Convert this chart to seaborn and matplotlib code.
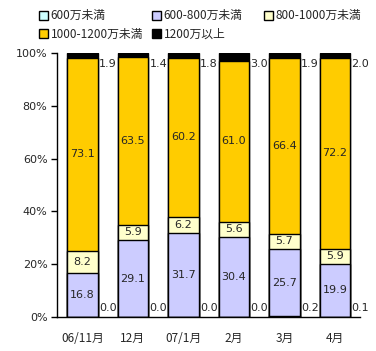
import matplotlib
matplotlib.use("Agg")
import matplotlib.pyplot as plt
import numpy as np
import pandas as pd
import seaborn as sns
from matplotlib.patches import Patch

months = ["06/11月", "12月", "07/1月", "2月", "3月", "4月"]
under600 = [0.0, 0.0, 0.0, 0.0, 0.2, 0.1]
r600_800 = [16.8, 29.1, 31.7, 30.4, 25.7, 19.9]
r800_1000 = [8.2, 5.9, 6.2, 5.6, 5.7, 5.9]
r1000_1200 = [73.1, 63.5, 60.2, 61.0, 66.4, 72.2]
over1200 = [1.9, 1.4, 1.8, 3.0, 1.9, 2.0]

names = ["600万未満", "600-800万未満", "800-1000万未満", "1000-1200万未満", "1200万以上"]
colors = ["#CCFFFF", "#CCCCFF", "#FFFFCC", "#FFCC00", "#000000"]
series = [under600, r600_800, r800_1000, r1000_1200, over1200]

sns.set_theme(style="white")
plt.rcParams['font.family'] = ['Noto Sans CJK JP', 'DejaVu Sans']

fig = plt.figure(figsize=(3.76, 3.51), dpi=100)
ax = fig.add_axes([0.152, 0.097, 0.806, 0.752])

cum = np.cumsum(np.array(series), axis=0)
bw = 0.61
# draw cumulative totals back to front so the lower segments sit on top
for i in range(len(series) - 1, -1, -1):
    df = pd.DataFrame({"month": months, "value": cum[i]})
    sns.barplot(data=df, x="month", y="value", order=months, color=colors[i],
                width=bw, edgecolor="black", linewidth=1, saturation=1, ax=ax)

fs = 8
for j in range(len(months)):
    for i in (1, 2, 3):
        lo = cum[i - 1][j]
        ax.text(j, lo + series[i][j] / 2, f"{series[i][j]:.1f}", ha="center", va="center",
                fontsize=fs, family="DejaVu Sans")
    ax.text(j + bw / 2 + 0.02, 3.4, f"{under600[j]:.1f}", ha="left", va="center",
            fontsize=fs, family="DejaVu Sans")
    ax.text(j + bw / 2 + 0.02, 95.8, f"{over1200[j]:.1f}", ha="left", va="center",
            fontsize=fs, family="DejaVu Sans")

ax.set_xlim(-0.5, 5.5)
ax.set_ylim(0, 100)
ax.set_yticks([0, 20, 40, 60, 80, 100])
ax.set_yticklabels([f"{v}%" for v in [0, 20, 40, 60, 80, 100]], family="DejaVu Sans")
ax.set_xlabel("")
ax.set_ylabel("")
ax.tick_params(axis="y", left=True, length=4, width=1, pad=3, labelsize=fs, color="black")
ax.tick_params(axis="x", length=0, pad=11, labelsize=8.5)
for s in ["top", "right"]:
    ax.spines[s].set_visible(False)
for s in ["left", "bottom"]:
    ax.spines[s].set_color("black")
    ax.spines[s].set_linewidth(1)

handles = [Patch(facecolor=c, edgecolor="black", linewidth=1, label=n) for c, n in zip(colors, names)]
# equal-width legend columns, one legend per column
columns = [[0, 3], [1, 4], [2]]
col_x = [37, 150, 262]
for xs, idx in zip(col_x, columns):
    fig.legend([handles[k] for k in idx], [names[k] for k in idx], ncol=1,
               loc="upper left", bbox_to_anchor=(xs / 376, 1 - 7 / 351), frameon=False,
               fontsize=8.5, handlelength=0.75, handleheight=0.75, handletextpad=0.2,
               labelspacing=0.45, borderaxespad=0, borderpad=0.2)

fig.savefig("out.png", dpi=100)
